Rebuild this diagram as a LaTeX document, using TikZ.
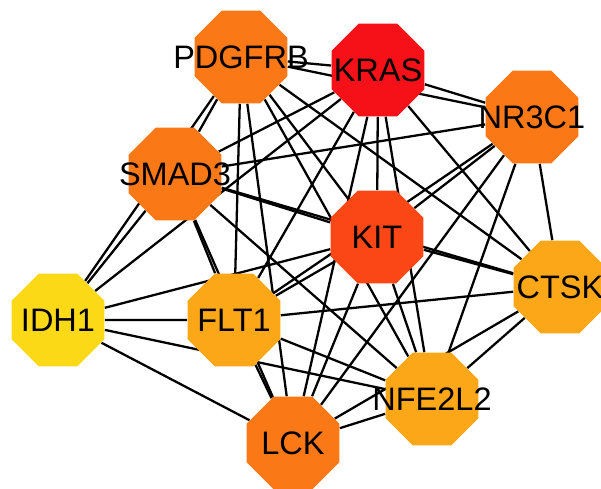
\documentclass[tikz,border=0pt]{standalone}
\usepackage{fontspec}
\setsansfont{Liberation Sans}
\usetikzlibrary{shapes.geometric}
\pgfdeclarelayer{background}
\pgfsetlayers{background,main}
\definecolor{hubred}{RGB}{246,16,24}
\definecolor{hubredorange}{RGB}{251,70,21}
\definecolor{huborange}{RGB}{251,120,22}
\definecolor{hubamber}{RGB}{252,167,23}
\definecolor{hubyellow}{RGB}{252,217,22}

\begin{document}
\begin{tikzpicture}[x=0.02cm, y=-0.02cm,
		base/.style = {regular polygon, regular polygon sides=8, draw=none,
									 minimum size=2.01cm, inner sep=0pt,
									 font=\sffamily\fontsize{18.5}{18.5}\selectfont},
	 deg9/.style = {base, fill=hubred},
	 deg8/.style = {base, fill=hubredorange},
	 deg7/.style = {base, fill=huborange},
	 deg6/.style = {base, fill=hubamber},
	 deg5/.style = {base, fill=hubyellow},
		link/.style = {black, line width=1.3pt}]
\useasboundingbox (0,0) rectangle (601,489);

\node (pdgfrb) [deg7] at (241,57)  {\makebox[0pt]{PDGFRB}};
\node (kras)   [deg9] at (378,70)  {\makebox[0pt]{KRAS}};
\node (nr3c1)  [deg7] at (532,117) {\makebox[0pt]{NR3C1}};
\node (smad3)  [deg7] at (175,174) {\makebox[0pt]{SMAD3}};
\node (kit)    [deg8] at (377,237) {\makebox[0pt]{KIT}};
\node (ctsk)   [deg6] at (560,287) {\makebox[0pt]{CTSK}};
\node (idh1)   [deg5] at (58,320)  {\makebox[0pt]{IDH1}};
\node (flt1)   [deg6] at (234,320) {\makebox[0pt]{FLT1}};
\node (nfe2l2) [deg6] at (432,399) {\makebox[0pt]{NFE2L2}};
\node (lck)    [deg7] at (293,443) {\makebox[0pt]{LCK}};

%% interactions
\begin{pgfonlayer}{background}
\draw [link]
	(pdgfrb) edge (kras)   (pdgfrb) edge (nr3c1) (pdgfrb) edge (smad3)
	(pdgfrb) edge (idh1)   (pdgfrb) edge (flt1)  (pdgfrb) edge (lck)
	(pdgfrb) edge (kit)    (pdgfrb) edge (nfe2l2) (pdgfrb) edge (ctsk)
	(kras) edge (nr3c1)    (kras) edge (smad3)   (kras) edge (idh1)
	(kras) edge (flt1)     (kras) edge (lck)     (kras) edge (kit)
	(kras) edge (nfe2l2)   (kras) edge (ctsk)
	(nr3c1) edge (smad3)   (nr3c1) edge (kit)    (nr3c1) edge (flt1)
	(nr3c1) edge (lck)     (nr3c1) edge (nfe2l2) (nr3c1) edge (ctsk)
	(smad3) edge (kit)     (smad3) edge (ctsk)   (smad3) edge (flt1)
	(smad3) edge (lck)     (smad3) edge (nfe2l2) (smad3) edge (idh1)
	(kit) edge (ctsk)      (kit) edge (idh1)     (kit) edge (flt1)
	(kit) edge (lck)       (kit) edge (nfe2l2)
	(ctsk) edge (flt1)     (ctsk) edge (lck)     (ctsk) edge (nfe2l2)
	(idh1) edge (flt1)     (idh1) edge (nfe2l2)  (idh1) edge (lck)
	(flt1) edge (lck)      (flt1) edge (nfe2l2)
	(lck) edge (nfe2l2)
	;
\end{pgfonlayer}
\end{tikzpicture}
\end{document}
